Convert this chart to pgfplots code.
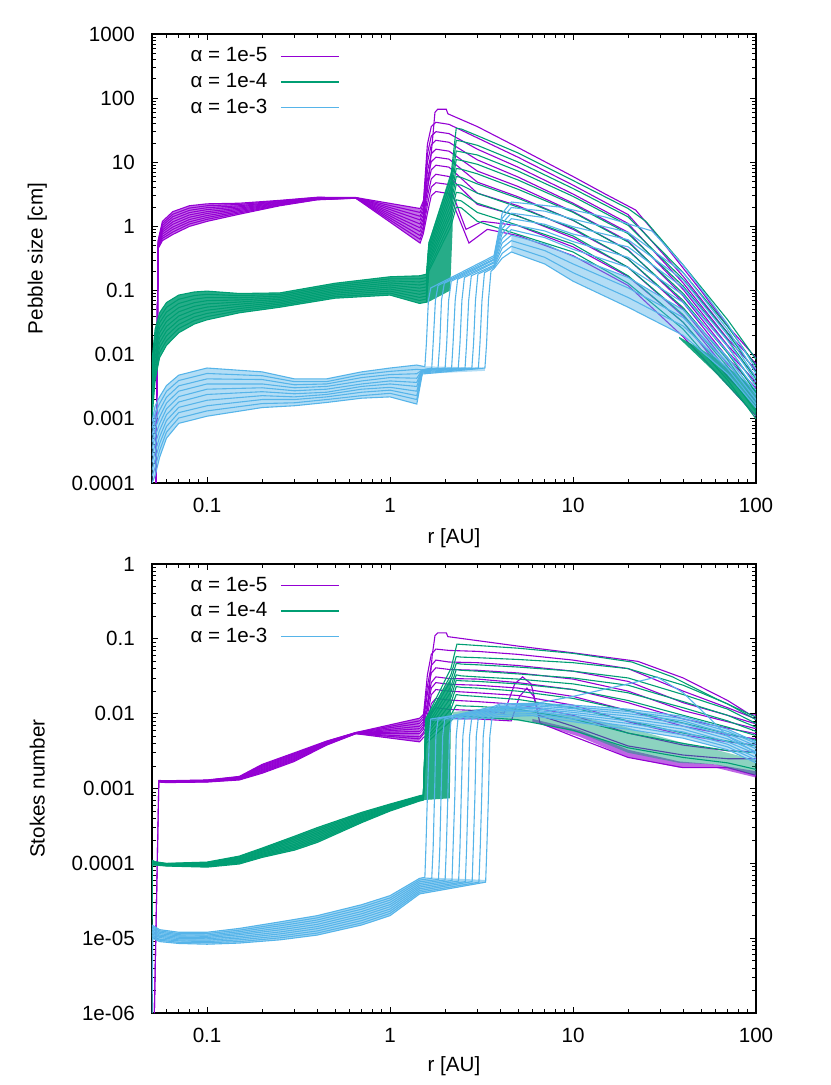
\documentclass[border=0pt]{standalone}
\usepackage{pgfplots}
\pgfplotsset{compat=1.18}
\usepackage{fontspec}
\setmainfont{Liberation Sans}
\definecolor{cP}{HTML}{9400D3}
\definecolor{cG}{HTML}{009E73}
\definecolor{cB}{HTML}{56B4E9}
\newcommand\fs{\fontsize{10.3}{12}\selectfont}
\tikzset{pP/.style={cP,line width=0.55pt},pG/.style={cG,line width=0.55pt},pB/.style={cB,line width=0.55pt}}
\begin{document}
\begin{tikzpicture}
\useasboundingbox (0,0) rectangle (415pt,542.5pt);
% ================= TOP PANEL =================
\begin{axis}[at={(76pt,301pt)}, anchor=south west,
    scale only axis, width=302pt, height=224.5pt,
    xmode=log, ymode=log, xmin=0.05, xmax=100,
    xtick={0.1,1,10,100}, xticklabels={0.1,1,10,100},
    minor xtick={0.06,0.07,0.08,0.09,0.2,0.3,0.4,0.5,0.6,0.7,0.8,0.9,2,3,4,5,6,7,8,9,20,30,40,50,60,70,80,90},
    tick align=inside, major tick length=3pt, minor tick length=1.8pt,
    tick style={black,line width=0.4pt},
    axis line style={line width=0.6pt},
    tick label style={font=\fs},
    xticklabel style={yshift=-3.9pt},
    yticklabel style={xshift=-5.1pt},
    label style={font=\fs},
    xlabel={r [AU]},
    xlabel style={at={(axis description cs:0.5,-0.1225)},anchor=center},
    ylabel style={at={(axis description cs:-0.19,0.5)},anchor=center},
    legend cell align=right, legend plot pos=right,
    legend style={draw=none,fill=none,at={(axis description cs:0.311,0.979)},anchor=north east,
      font=\fs,inner sep=0pt,row sep=0.2pt,column sep=4.5pt},
    legend image code/.code={\draw[#1] (0pt,0pt) -- (29pt,0pt);},
  ymin=1e-4, ymax=1000,
  ytick={1e-4,1e-3,0.01,0.1,1,10,100,1000},
  yticklabels={0.0001,0.001,0.01,0.1,1,10,100,1000},
  minor ytick={2e-4,3e-4,4e-4,5e-4,6e-4,7e-4,8e-4,9e-4,2e-3,3e-3,4e-3,5e-3,6e-3,7e-3,8e-3,9e-3,0.02,0.03,0.04,0.05,0.06,0.07,0.08,0.09,0.2,0.3,0.4,0.5,0.6,0.7,0.8,0.9,2,3,4,5,6,7,8,9,20,30,40,50,60,70,80,90,200,300,400,500,600,700,800,900},
  ylabel={Pebble size [cm]}]
\addlegendimage{cP,line width=0.6pt}\addlegendentry{α = 1e-5}
\addlegendimage{cG,line width=0.6pt}\addlegendentry{α = 1e-4}
\addlegendimage{cB,line width=0.6pt}\addlegendentry{α = 1e-3}
% purple
\addplot[draw=none,fill=cP,fill opacity=0.55,forget plot] coordinates {(0.054,0.6)(0.057,1.2)(0.065,1.7)(0.08,2.1)(0.1,2.25)(0.15,2.3)(0.25,2.55)(0.4,2.85)(0.65,2.82)(1.46,1.9)(1.46,0.55)(0.65,2.75)(0.4,2.6)(0.25,2.1)(0.15,1.55)(0.1,1.2)(0.08,1.0)(0.065,0.75)(0.057,0.6)(0.054,0.45)};
\addplot[pP,forget plot] coordinates {(0.0525,1e-4)(0.054,0.6)(0.057,1.2)(0.065,1.7)(0.08,2.1)(0.1,2.25)(0.15,2.3)(0.25,2.55)(0.4,2.85)(0.65,2.82)(1.46,1.9)(1.6,3.5)(1.7,20)(1.76,60)(1.82,67)(2.03,67)(2.07,57)(3,36)(5,17)(10,6)(15,3.2)(22,1.8)(30,0.63)(50,0.1)(70,0.028)(100,0.0089)};
\addplot[pP,forget plot] coordinates {(0.0525,1e-4)(0.054,0.58)(0.057,1.11)(0.065,1.55)(0.08,1.93)(0.1,2.1)(0.15,2.2)(0.25,2.5)(0.4,2.82)(0.65,2.81)(1.46,1.65)(1.52,2.3)(1.6,19)(1.68,36)(1.78,42)(2.1,39)(3,24)(5,12)(10,4.4)(20,1.53)(40,0.166)(70,0.022)(100,0.0072)};
\addplot[pP,forget plot] coordinates {(0.0525,1e-4)(0.054,0.56)(0.057,1.03)(0.065,1.42)(0.08,1.78)(0.1,1.96)(0.15,2.1)(0.25,2.44)(0.4,2.79)(0.65,2.8)(1.46,1.44)(1.52,2.0)(1.6,13.5)(1.68,25.5)(1.78,30)(2.1,28)(3,16)(5,8.4)(10,3.2)(20,1.11)(40,0.131)(70,0.0177)(100,0.0058)};
\addplot[pP,forget plot] coordinates {(0.0525,1e-4)(0.054,0.54)(0.057,0.95)(0.065,1.3)(0.08,1.64)(0.1,1.83)(0.15,2.02)(0.25,2.39)(0.4,2.76)(0.65,2.8)(1.46,1.26)(1.52,1.76)(1.6,9.9)(1.68,18.7)(1.78,22)(2.1,20.5)(3,10.9)(5,5.9)(10,2.3)(20,0.81)(40,0.104)(70,0.014)(100,0.0046)};
\addplot[pP,forget plot] coordinates {(0.0525,1e-4)(0.054,0.52)(0.057,0.88)(0.065,1.18)(0.08,1.51)(0.1,1.7)(0.15,1.93)(0.25,2.34)(0.4,2.73)(0.65,2.79)(1.46,1.09)(1.52,1.53)(1.6,7.2)(1.68,13.6)(1.78,16)(2.1,14.9)(3,7.3)(5,4.2)(10,1.7)(20,0.59)(40,0.082)(70,0.0112)(100,0.0037)};
\addplot[pP,forget plot] coordinates {(0.0525,1e-4)(0.054,0.51)(0.057,0.82)(0.065,1.08)(0.08,1.39)(0.1,1.59)(0.15,1.85)(0.25,2.29)(0.4,2.71)(0.65,2.78)(1.46,0.95)(1.52,1.33)(1.6,5.4)(1.68,10.2)(1.78,12)(2.1,11.2)(3,4.9)(5,2.9)(10,1.24)(20,0.43)(40,0.065)(70,0.0089)(100,0.003)};
\addplot[pP,forget plot] coordinates {(0.0525,1e-4)(0.054,0.5)(0.057,0.76)(0.065,0.98)(0.08,1.28)(0.1,1.48)(0.15,1.77)(0.25,2.24)(0.4,2.68)(0.65,2.77)(1.46,0.83)(1.52,1.16)(1.6,4.05)(1.68,7.65)(1.78,9)(2.1,8.4)(3,3.3)(5,2.1)(10,0.9)(20,0.31)(40,0.051)(70,0.0071)(100,0.0024)};
\addplot[pP,forget plot] coordinates {(0.0525,1e-4)(0.054,0.48)(0.057,0.7)(0.065,0.9)(0.08,1.18)(0.1,1.38)(0.15,1.69)(0.25,2.19)(0.4,2.65)(0.65,2.77)(1.46,0.72)(1.52,1.0)(1.6,2.9)(1.68,5.5)(1.78,6.5)(2.1,6.0)(3,2.2)(5,1.46)(10,0.66)(20,0.23)(40,0.04)(70,0.0056)(100,0.0019)};
\addplot[pP,forget plot] coordinates {(0.0525,1e-4)(0.054,0.47)(0.057,0.65)(0.065,0.82)(0.08,1.09)(0.1,1.29)(0.15,1.62)(0.25,2.14)(0.4,2.62)(0.65,2.76)(1.46,0.63)(1.52,0.88)(1.6,2.16)(1.68,4.1)(1.78,4.8)(2.1,4.5)(2.6,0.9)(3.2,1.2)(5,1.03)(10,0.48)(20,0.165)(40,0.032)(70,0.0045)(100,0.0016)};
\addplot[pP,forget plot] coordinates {(0.0525,1e-4)(0.054,0.45)(0.057,0.6)(0.065,0.75)(0.08,1.0)(0.1,1.2)(0.15,1.55)(0.25,2.1)(0.4,2.6)(0.65,2.75)(1.46,0.55)(1.52,0.77)(1.6,1.6)(1.68,3.0)(1.78,3.5)(2.1,3.25)(2.7,0.55)(3.4,0.9)(5,0.72)(10,0.35)(20,0.12)(40,0.019)(70,0.0034)(100,0.0011)};
% green
\addplot[draw=none,fill=cG,fill opacity=0.85,forget plot] coordinates {(0.05,0.008)(0.052,0.025)(0.055,0.045)(0.06,0.065)(0.07,0.085)(0.085,0.095)(0.1,0.098)(0.15,0.09)(0.25,0.092)(0.5,0.13)(1.0,0.164)(1.45,0.17)(1.58,0.18)(1.62,0.55)(2.15,7)(2.2,7)(2.2,1.0)(2.13,0.1)(1.6,0.065)(1.45,0.063)(1.0,0.085)(0.5,0.076)(0.25,0.055)(0.15,0.045)(0.1,0.035)(0.085,0.03)(0.07,0.022)(0.06,0.014)(0.055,0.009)(0.052,0.004)(0.05,0.001)};
\addplot[draw=none,fill=cG,fill opacity=0.9,forget plot] coordinates {(38,0.019)(60,0.009)(82,0.0045)(100,0.0028)(100,0.0011)(82,0.002)(60,0.0052)(38,0.018)};
\addplot[pG,forget plot] coordinates {(0.05,0.008)(0.052,0.025)(0.055,0.045)(0.06,0.065)(0.07,0.085)(0.085,0.095)(0.1,0.098)(0.15,0.09)(0.25,0.092)(0.5,0.13)(1.0,0.164)(1.45,0.17)(1.58,0.18)(1.63,0.55)(2.15,6)(2.3,34)(2.45,33)(3,26)(5,14)(10,5.2)(20,1.9)(25,1.2)(40,0.25)(70,0.035)(100,0.0085)};
\addplot[pG,forget plot] coordinates {(0.05,0.0063)(0.052,0.0204)(0.055,0.0376)(0.06,0.0548)(0.07,0.0731)(0.085,0.0836)(0.1,0.0874)(0.15,0.0833)(0.25,0.0869)(0.5,0.1224)(1.0,0.1524)(1.45,0.152)(1.58,0.16)(1.63,0.49)(2.15,4.9)(2.3,22)(2.45,21.3)(3,18.4)(5,10.1)(10,3.9)(20,1.41)(40,0.19)(70,0.0275)(100,0.0067)};
\addplot[pG,forget plot] coordinates {(0.05,0.005)(0.052,0.0166)(0.055,0.0315)(0.06,0.0462)(0.07,0.0629)(0.085,0.0735)(0.1,0.078)(0.15,0.0771)(0.25,0.082)(0.5,0.1153)(1.0,0.1417)(1.45,0.136)(1.58,0.143)(1.63,0.44)(2.15,4.0)(2.3,15)(2.45,14.5)(3,13)(5,7.3)(10,2.94)(20,1.04)(40,0.15)(70,0.0217)(100,0.0053)};
\addplot[pG,forget plot] coordinates {(0.05,0.004)(0.052,0.0136)(0.055,0.0263)(0.06,0.039)(0.07,0.0542)(0.085,0.0646)(0.1,0.0696)(0.15,0.0714)(0.25,0.0775)(0.5,0.1086)(1.0,0.1317)(1.45,0.122)(1.58,0.128)(1.63,0.39)(2.15,3.3)(2.3,11)(2.45,10.7)(3,9.3)(5,5.3)(10,2.2)(20,0.77)(40,0.117)(70,0.017)(100,0.0042)};
\addplot[pG,forget plot] coordinates {(0.05,0.0032)(0.052,0.011)(0.055,0.022)(0.06,0.0329)(0.07,0.0466)(0.085,0.0568)(0.1,0.062)(0.15,0.0662)(0.25,0.0731)(0.5,0.1022)(1.0,0.1224)(1.45,0.109)(1.58,0.114)(1.63,0.35)(2.15,2.7)(2.3,8)(2.45,7.8)(3,6.6)(5,3.8)(10,1.66)(20,0.57)(40,0.09)(70,0.0134)(100,0.0033)};
\addplot[pG,forget plot] coordinates {(0.05,0.0025)(0.052,0.009)(0.055,0.0184)(0.06,0.0277)(0.07,0.0401)(0.085,0.05)(0.1,0.0553)(0.15,0.0613)(0.25,0.069)(0.5,0.0963)(1.0,0.1137)(1.45,0.0976)(1.58,0.102)(1.63,0.31)(2.15,2.2)(2.3,6)(2.45,5.8)(3,4.6)(5,2.75)(10,1.25)(20,0.42)(40,0.07)(70,0.0106)(100,0.0026)};
\addplot[pG,forget plot] coordinates {(0.05,0.002)(0.052,0.0074)(0.055,0.0154)(0.06,0.0234)(0.07,0.0345)(0.085,0.044)(0.1,0.0494)(0.15,0.0567)(0.25,0.0652)(0.5,0.0907)(1.0,0.1057)(1.45,0.0874)(1.58,0.092)(1.63,0.28)(2.15,1.8)(2.3,4.5)(2.45,4.4)(3,3.3)(5,2.0)(10,0.94)(20,0.31)(40,0.054)(70,0.0083)(100,0.002)};
\addplot[pG,forget plot] coordinates {(0.05,0.0016)(0.052,0.006)(0.055,0.0129)(0.06,0.0197)(0.07,0.0297)(0.085,0.0387)(0.1,0.044)(0.15,0.0525)(0.25,0.0616)(0.5,0.0854)(1.0,0.0982)(1.45,0.0782)(1.58,0.082)(1.63,0.25)(2.15,1.5)(2.3,3.4)(2.45,3.3)(3,2.3)(5,1.44)(10,0.71)(20,0.23)(40,0.042)(70,0.0065)(100,0.0016)};
\addplot[pG,forget plot] coordinates {(0.05,0.00126)(0.052,0.0049)(0.055,0.0108)(0.06,0.0166)(0.07,0.0256)(0.085,0.034)(0.1,0.0393)(0.15,0.0486)(0.25,0.0582)(0.5,0.0804)(1.0,0.0913)(1.45,0.07)(1.58,0.074)(1.63,0.22)(2.15,1.22)(2.3,2.6)(2.45,2.5)(3,1.65)(5,1.04)(10,0.53)(20,0.17)(40,0.032)(70,0.0051)(100,0.0013)};
\addplot[pG,forget plot] coordinates {(0.05,0.001)(0.052,0.004)(0.055,0.009)(0.06,0.014)(0.07,0.022)(0.085,0.03)(0.1,0.035)(0.15,0.045)(0.25,0.055)(0.5,0.076)(1.0,0.085)(1.45,0.063)(1.58,0.066)(1.63,0.2)(2.15,1.0)(2.3,2.0)(2.45,1.95)(3,1.2)(5,0.75)(10,0.4)(20,0.13)(40,0.025)(70,0.004)(100,0.001)};
% blue
\addplot[draw=none,fill=cB,fill opacity=0.45,forget plot] coordinates {(0.05,9e-4)(0.052,1.6e-3)(0.055,2.2e-3)(0.06,3.3e-3)(0.07,4.8e-3)(0.1,6.2e-3)(0.2,5.4e-3)(0.3,4.2e-3)(0.45,4.2e-3)(0.7,5.4e-3)(1.0,6.2e-3)(1.4,6.9e-3)(1.55,6.6e-3)(3.3,6.3e-3)(3.3,5.6e-3)(1.5,5.0e-3)(1.4,1.7e-3)(1.0,2.2e-3)(0.7,2.1e-3)(0.45,1.8e-3)(0.3,1.6e-3)(0.2,1.5e-3)(0.1,1.1e-3)(0.07,8.5e-4)(0.06,5e-4)(0.055,2.5e-4)(0.052,1.3e-4)(0.05,1e-4)};
\addplot[draw=none,fill=cB,fill opacity=0.45,forget plot] coordinates {(4.6,0.73)(7,0.53)(10,0.34)(20,0.16)(40,0.05)(70,0.0091)(100,0.0024)(100,0.0015)(70,0.005)(40,0.02)(20,0.055)(10,0.14)(7,0.26)(4.6,0.4)};
\addplot[pB,forget plot] coordinates {(0.05,9e-4)(0.052,1.6e-3)(0.055,2.2e-3)(0.06,3.3e-3)(0.07,4.8e-3)(0.1,6.2e-3)(0.2,5.4e-3)(0.3,4.2e-3)(0.45,4.2e-3)(0.7,5.4e-3)(1.0,6.2e-3)(1.4,6.9e-3)(1.55,6.5e-3)(1.58,0.015)(1.62,0.07)(1.67,0.11)(3.7,0.35)(4.1,1.6)(4.6,2.4)(8.5,2.0)(15,1.4)(27,0.85)(40,0.25)(70,0.03)(100,0.006)};
\addplot[pB,forget plot] coordinates {(0.05,7.05e-4)(0.052,1.21e-3)(0.055,1.73e-3)(0.06,2.68e-3)(0.07,3.96e-3)(0.1,5.1e-3)(0.2,4.7e-3)(0.3,3.8e-3)(0.45,3.8e-3)(0.7,4.9e-3)(1.0,5.5e-3)(1.4,5.9e-3)(1.5,5.8e-3)(1.69,6.2e-3)(1.72,0.015)(1.77,0.07)(1.83,0.12)(3.7,0.33)(4.1,1.34)(4.6,1.97)(7,1.73)(10,1.3)(20,0.81)(40,0.19)(70,0.0246)(100,0.0051)};
\addplot[pB,forget plot] coordinates {(0.05,5.5e-4)(0.052,9.2e-4)(0.055,1.36e-3)(0.06,2.17e-3)(0.07,3.27e-3)(0.1,4.2e-3)(0.2,4.1e-3)(0.3,3.4e-3)(0.45,3.5e-3)(0.7,4.4e-3)(1.0,4.9e-3)(1.4,5.05e-3)(1.5,5.8e-3)(1.83,6.2e-3)(1.87,0.015)(1.91,0.07)(1.98,0.13)(3.7,0.31)(4.1,1.12)(4.6,1.61)(7,1.37)(10,0.99)(20,0.62)(40,0.146)(70,0.0202)(100,0.0044)};
\addplot[pB,forget plot] coordinates {(0.05,4.3e-4)(0.052,7e-4)(0.055,1.07e-3)(0.06,1.76e-3)(0.07,2.7e-3)(0.1,3.5e-3)(0.2,3.5e-3)(0.3,3.05e-3)(0.45,3.2e-3)(0.7,3.9e-3)(1.0,4.4e-3)(1.4,4.3e-3)(1.5,5.8e-3)(2.0,6.2e-3)(2.04,0.015)(2.09,0.07)(2.16,0.14)(3.7,0.3)(4.1,0.93)(4.6,1.32)(7,1.08)(10,0.76)(20,0.48)(40,0.111)(70,0.0165)(100,0.0038)};
\addplot[pB,forget plot] coordinates {(0.05,3.4e-4)(0.052,5.3e-4)(0.055,8.4e-4)(0.06,1.43e-3)(0.07,2.22e-3)(0.1,2.9e-3)(0.2,3.05e-3)(0.3,2.74e-3)(0.45,2.9e-3)(0.7,3.5e-3)(1.0,3.9e-3)(1.4,3.7e-3)(1.5,5.8e-3)(2.17,6.2e-3)(2.21,0.015)(2.27,0.07)(2.34,0.15)(3.7,0.28)(4.1,0.78)(4.6,1.08)(7,0.85)(10,0.58)(20,0.33)(40,0.085)(70,0.0135)(100,0.0032)};
\addplot[pB,forget plot] coordinates {(0.05,2.65e-4)(0.052,4e-4)(0.055,6.6e-4)(0.06,1.16e-3)(0.07,1.83e-3)(0.1,2.4e-3)(0.2,2.65e-3)(0.3,2.46e-3)(0.45,2.6e-3)(0.7,3.2e-3)(1.0,3.5e-3)(1.4,3.2e-3)(1.5,5.8e-3)(2.36,6.2e-3)(2.41,0.015)(2.47,0.07)(2.55,0.16)(3.7,0.27)(4.1,0.65)(4.6,0.89)(7,0.67)(10,0.44)(20,0.23)(40,0.065)(70,0.0111)(100,0.0028)};
\addplot[pB,forget plot] coordinates {(0.05,2.1e-4)(0.052,3e-4)(0.055,5.2e-4)(0.06,9.4e-4)(0.07,1.51e-3)(0.1,1.95e-3)(0.2,2.3e-3)(0.3,2.2e-3)(0.45,2.4e-3)(0.7,2.9e-3)(1.0,3.1e-3)(1.4,2.7e-3)(1.5,5.6e-3)(2.57,6.2e-3)(2.62,0.015)(2.69,0.07)(2.78,0.17)(3.7,0.25)(4.1,0.55)(4.6,0.73)(7,0.53)(10,0.34)(20,0.16)(40,0.05)(70,0.0091)(100,0.0024)};
\addplot[pB,forget plot] coordinates {(0.05,1.6e-4)(0.052,2.3e-4)(0.055,4.1e-4)(0.06,7.6e-4)(0.07,1.25e-3)(0.1,1.6e-3)(0.2,2.0e-3)(0.3,2.0e-3)(0.45,2.2e-3)(0.7,2.6e-3)(1.0,2.8e-3)(1.4,2.3e-3)(1.5,5.4e-3)(2.8,6.2e-3)(2.86,0.015)(2.93,0.07)(3.02,0.18)(3.7,0.24)(4.1,0.46)(4.6,0.6)(7,0.42)(10,0.26)(20,0.11)(40,0.038)(70,0.0075)(100,0.002)};
\addplot[pB,forget plot] coordinates {(0.05,1.28e-4)(0.052,1.74e-4)(0.055,3.2e-4)(0.06,6.2e-4)(0.07,1.03e-3)(0.1,1.33e-3)(0.2,1.73e-3)(0.3,1.78e-3)(0.45,2.0e-3)(0.7,2.3e-3)(1.0,2.5e-3)(1.4,2.0e-3)(1.5,5.2e-3)(3.04,6.2e-3)(3.1,0.015)(3.18,0.07)(3.28,0.19)(3.7,0.23)(4.1,0.38)(4.6,0.49)(7,0.33)(10,0.19)(20,0.078)(40,0.028)(70,0.0061)(100,0.0017)};
\addplot[pB,forget plot] coordinates {(0.05,1e-4)(0.052,1.3e-4)(0.055,2.5e-4)(0.06,5e-4)(0.07,8.5e-4)(0.1,1.1e-3)(0.2,1.5e-3)(0.3,1.6e-3)(0.45,1.8e-3)(0.7,2.1e-3)(1.0,2.2e-3)(1.4,1.7e-3)(1.5,5.0e-3)(3.3,6.2e-3)(3.37,0.015)(3.45,0.07)(3.56,0.2)(3.7,0.22)(4.1,0.32)(4.6,0.4)(7,0.26)(10,0.14)(20,0.055)(40,0.02)(70,0.005)(100,0.0015)};
\end{axis}
% ================= BOTTOM PANEL =================
\begin{axis}[at={(76pt,36pt)}, anchor=south west,
    scale only axis, width=302pt, height=224.5pt,
    xmode=log, ymode=log, xmin=0.05, xmax=100,
    xtick={0.1,1,10,100}, xticklabels={0.1,1,10,100},
    minor xtick={0.06,0.07,0.08,0.09,0.2,0.3,0.4,0.5,0.6,0.7,0.8,0.9,2,3,4,5,6,7,8,9,20,30,40,50,60,70,80,90},
    tick align=inside, major tick length=3pt, minor tick length=1.8pt,
    tick style={black,line width=0.4pt},
    axis line style={line width=0.6pt},
    tick label style={font=\fs},
    xticklabel style={yshift=-3.9pt},
    yticklabel style={xshift=-5.1pt},
    label style={font=\fs},
    xlabel={r [AU]},
    xlabel style={at={(axis description cs:0.5,-0.118)},anchor=center},
    ylabel style={at={(axis description cs:-0.19,0.5)},anchor=center},
    legend cell align=right, legend plot pos=right,
    legend style={draw=none,fill=none,at={(axis description cs:0.311,0.981)},anchor=north east,
      font=\fs,inner sep=0pt,row sep=0.2pt,column sep=4.5pt},
    legend image code/.code={\draw[#1] (0pt,0pt) -- (29pt,0pt);},
  ymin=1e-6, ymax=1,
  ytick={1e-6,1e-5,1e-4,1e-3,0.01,0.1,1},
  yticklabels={1e-06,1e-05,0.0001,0.001,0.01,0.1,1},
  minor ytick={2e-6,3e-6,4e-6,5e-6,6e-6,7e-6,8e-6,9e-6,2e-5,3e-5,4e-5,5e-5,6e-5,7e-5,8e-5,9e-5,2e-4,3e-4,4e-4,5e-4,6e-4,7e-4,8e-4,9e-4,2e-3,3e-3,4e-3,5e-3,6e-3,7e-3,8e-3,9e-3,0.02,0.03,0.04,0.05,0.06,0.07,0.08,0.09,0.2,0.3,0.4,0.5,0.6,0.7,0.8,0.9},
  ylabel={Stokes number}]
\addlegendimage{cP,line width=0.6pt}\addlegendentry{α = 1e-5}
\addlegendimage{cG,line width=0.6pt}\addlegendentry{α = 1e-4}
\addlegendimage{cB,line width=0.6pt}\addlegendentry{α = 1e-3}
% purple
\addplot[draw=none,fill=cP,fill opacity=0.6,forget plot] coordinates {(0.0545,1.28e-3)(0.06,1.27e-3)(0.1,1.3e-3)(0.15,1.45e-3)(0.2,2.1e-3)(0.3,3.0e-3)(0.45,4.3e-3)(0.65,5.6e-3)(1.45,8.7e-3)(1.45,4.2e-3)(0.65,5.4e-3)(0.45,3.8e-3)(0.3,2.3e-3)(0.2,1.6e-3)(0.15,1.3e-3)(0.1,1.22e-3)(0.06,1.2e-3)(0.0545,1.22e-3)};
\addplot[draw=none,fill=cP,fill opacity=0.6,forget plot] coordinates {(6,0.0085)(10.9,0.006)(20,0.0033)(38,0.0023)(60,0.0021)(100,0.0017)(100,0.0014)(60,0.0019)(38,0.0019)(20,0.0026)(10.9,0.0049)(6,0.0078)};
\addplot[pP,forget plot] coordinates {(0.0515,1e-6)(0.0545,1.28e-3)(0.06,1.27e-3)(0.1,1.3e-3)(0.15,1.45e-3)(0.2,2.1e-3)(0.3,3.0e-3)(0.45,4.3e-3)(0.65,5.6e-3)(1.45,8.7e-3)(1.6,0.011)(1.7,0.06)(1.76,0.11)(1.82,0.12)(2.03,0.12)(2.07,0.107)(5,0.08)(10,0.065)(22.6,0.05)(40,0.03)(70,0.015)(93,0.0097)(100,0.0096)};
\addplot[pP,forget plot] coordinates {(0.0515,1e-6)(0.0545,1.27e-3)(0.06,1.26e-3)(0.1,1.29e-3)(0.15,1.43e-3)(0.2,2.04e-3)(0.3,2.92e-3)(0.45,4.25e-3)(0.65,5.58e-3)(1.45,8.0e-3)(1.52,9.2e-3)(1.6,0.033)(1.68,0.062)(1.78,0.073)(2.1,0.07)(3,0.068)(5,0.062)(10,0.052)(20,0.04)(40,0.02)(70,0.012)(100,0.0085)};
\addplot[pP,forget plot] coordinates {(0.0545,1.27e-3)(0.06,1.25e-3)(0.1,1.28e-3)(0.15,1.42e-3)(0.2,1.98e-3)(0.3,2.84e-3)(0.45,4.19e-3)(0.65,5.56e-3)(1.45,7.4e-3)(1.52,8.5e-3)(1.6,0.0234)(1.68,0.044)(1.78,0.052)(2.1,0.049)(3,0.048)(5,0.044)(10,0.037)(20,0.027)(40,0.014)(70,0.0095)(100,0.0073)};
\addplot[pP,forget plot] coordinates {(0.0545,1.26e-3)(0.06,1.25e-3)(0.1,1.27e-3)(0.15,1.4e-3)(0.2,1.92e-3)(0.3,2.76e-3)(0.45,4.14e-3)(0.65,5.53e-3)(1.45,6.8e-3)(1.52,7.8e-3)(1.6,0.0185)(1.68,0.035)(1.78,0.041)(2.1,0.039)(3,0.038)(5,0.035)(10,0.029)(20,0.02)(40,0.011)(70,0.0078)(100,0.0063)};
\addplot[pP,forget plot] coordinates {(0.0545,1.25e-3)(0.06,1.24e-3)(0.1,1.26e-3)(0.15,1.39e-3)(0.2,1.86e-3)(0.3,2.68e-3)(0.45,4.08e-3)(0.65,5.51e-3)(1.45,6.3e-3)(1.52,7.2e-3)(1.6,0.014)(1.68,0.026)(1.78,0.031)(2.1,0.0295)(3,0.029)(5,0.026)(10,0.021)(20,0.014)(40,0.0085)(70,0.0064)(100,0.0054)};
\addplot[pP,forget plot] coordinates {(0.0545,1.25e-3)(0.06,1.23e-3)(0.1,1.26e-3)(0.15,1.37e-3)(0.2,1.8e-3)(0.3,2.6e-3)(0.45,4.03e-3)(0.65,5.49e-3)(1.45,5.8e-3)(1.52,6.7e-3)(1.6,0.0117)(1.68,0.022)(1.78,0.026)(2.1,0.0247)(3,0.024)(5,0.022)(10,0.017)(20,0.011)(40,0.0068)(70,0.0052)(100,0.0046)};
\addplot[pP,forget plot] coordinates {(0.0545,1.24e-3)(0.06,1.22e-3)(0.1,1.25e-3)(0.15,1.35e-3)(0.2,1.75e-3)(0.3,2.52e-3)(0.45,3.97e-3)(0.65,5.47e-3)(1.45,5.4e-3)(1.52,6.2e-3)(1.6,0.0095)(1.68,0.0179)(1.78,0.021)(2.1,0.02)(3,0.019)(5,0.0175)(10,0.013)(20,0.0078)(40,0.0052)(70,0.0042)(100,0.0038)};
\addplot[pP,forget plot] coordinates {(0.0545,1.23e-3)(0.06,1.22e-3)(0.1,1.24e-3)(0.15,1.34e-3)(0.2,1.7e-3)(0.3,2.45e-3)(0.45,3.91e-3)(0.65,5.44e-3)(1.45,4.9e-3)(1.52,5.6e-3)(1.6,0.0072)(1.68,0.0136)(1.78,0.016)(2.1,0.0152)(3,0.0145)(5,0.0133)(10,0.0095)(20,0.0055)(40,0.0038)(70,0.0032)(100,0.0031)};
\addplot[pP,forget plot] coordinates {(0.0545,1.23e-3)(0.06,1.21e-3)(0.1,1.23e-3)(0.15,1.32e-3)(0.2,1.65e-3)(0.3,2.37e-3)(0.45,3.86e-3)(0.65,5.42e-3)(1.45,4.6e-3)(1.52,5.3e-3)(1.6,0.006)(1.68,0.0102)(1.78,0.012)(2.1,0.0114)(3,0.011)(4.2,0.0102)(4.8,0.025)(5.3,0.031)(5.9,0.025)(6.5,0.0095)(10,0.0068)(20,0.0037)(40,0.0028)(70,0.0025)(100,0.0025)};
\addplot[pP,forget plot] coordinates {(0.0545,1.22e-3)(0.06,1.2e-3)(0.1,1.22e-3)(0.15,1.3e-3)(0.2,1.6e-3)(0.3,2.3e-3)(0.45,3.8e-3)(0.65,5.4e-3)(1.45,4.2e-3)(1.52,4.8e-3)(1.6,0.0052)(1.68,0.0077)(1.78,0.009)(2.1,0.0086)(3,0.0085)(4.6,0.008)(5.1,0.017)(5.6,0.022)(6.1,0.017)(6.6,0.0075)(10,0.005)(20,0.0026)(40,0.0019)(70,0.0019)(100,0.0015)};
% green
\addplot[draw=none,fill=cG,fill opacity=0.85,forget plot] coordinates {(0.05,1.1e-4)(0.052,1.05e-4)(0.06,1.0e-4)(0.1,1.04e-4)(0.15,1.25e-4)(0.2,1.6e-4)(0.3,2.3e-4)(0.4,3.0e-4)(0.7,4.8e-4)(1.0,6.2e-4)(1.45,8.0e-4)(1.52,8.2e-4)(1.55,0.0085)(2.15,0.03)(2.15,0.0075)(2.12,7.4e-4)(1.52,7.0e-4)(1.45,6.8e-4)(1.0,5.0e-4)(0.7,3.5e-4)(0.4,1.9e-4)(0.3,1.5e-4)(0.2,1.2e-4)(0.15,0.98e-4)(0.1,0.89e-4)(0.06,0.92e-4)(0.052,0.95e-4)(0.05,0.95e-4)};
\addplot[draw=none,fill=cG,fill opacity=0.45,forget plot] coordinates {(2.2,0.0105)(3,0.0115)(4.7,0.0115)(7,0.0105)(10.9,0.0092)(20,0.0065)(38,0.0042)(60,0.0033)(100,0.0024)(100,0.0015)(60,0.0021)(38,0.0022)(20,0.003)(10.9,0.0055)(7,0.0072)(4.7,0.0082)(3,0.0086)(2.2,0.0088)};
\addplot[pG,forget plot] coordinates {(0.05,1.1e-4)(0.052,1.05e-4)(0.06,1.0e-4)(0.1,1.04e-4)(0.15,1.25e-4)(0.2,1.6e-4)(0.3,2.3e-4)(0.4,3.0e-4)(0.7,4.8e-4)(1.0,6.2e-4)(1.45,8.0e-4)(1.52,8.2e-4)(1.57,0.0085)(2.15,0.04)(2.32,0.085)(5,0.075)(10,0.064)(21,0.049)(35,0.031)(60,0.016)(100,0.009)};
\addplot[pG,forget plot] coordinates {(0.05,1.08e-4)(0.052,1.04e-4)(0.06,0.99e-4)(0.1,1.02e-4)(0.15,1.22e-4)(0.2,1.55e-4)(0.3,2.2e-4)(0.4,2.85e-4)(0.7,4.63e-4)(1.0,6.05e-4)(1.45,7.86e-4)(1.52,8.1e-4)(1.57,0.0078)(2.15,0.033)(2.3,0.058)(2.45,0.057)(3,0.056)(5,0.053)(10,0.048)(20,0.04)(40,0.024)(70,0.0135)(100,0.0083)};
\addplot[pG,forget plot] coordinates {(0.05,1.06e-4)(0.052,1.03e-4)(0.06,0.98e-4)(0.1,1.0e-4)(0.15,1.18e-4)(0.2,1.5e-4)(0.3,2.1e-4)(0.4,2.71e-4)(0.7,4.47e-4)(1.0,5.9e-4)(1.45,7.72e-4)(1.52,7.95e-4)(1.57,0.0072)(2.15,0.028)(2.3,0.047)(2.45,0.046)(3,0.045)(5,0.042)(10,0.037)(20,0.03)(40,0.018)(70,0.0115)(100,0.0074)};
\addplot[pG,forget plot] coordinates {(0.05,1.05e-4)(0.052,1.02e-4)(0.06,0.97e-4)(0.1,0.99e-4)(0.15,1.15e-4)(0.2,1.45e-4)(0.3,2.0e-4)(0.4,2.57e-4)(0.7,4.31e-4)(1.0,5.76e-4)(1.45,7.58e-4)(1.52,7.8e-4)(1.57,0.0066)(2.15,0.023)(2.3,0.039)(2.45,0.038)(3,0.037)(5,0.034)(10,0.03)(20,0.024)(40,0.0145)(70,0.0095)(100,0.0066)};
\addplot[pG,forget plot] coordinates {(0.05,1.03e-4)(0.052,1.0e-4)(0.06,0.96e-4)(0.1,0.97e-4)(0.15,1.12e-4)(0.2,1.41e-4)(0.3,1.9e-4)(0.4,2.45e-4)(0.7,4.16e-4)(1.0,5.62e-4)(1.45,7.44e-4)(1.52,7.65e-4)(1.57,0.0061)(2.15,0.0196)(2.3,0.033)(2.45,0.032)(3,0.031)(5,0.029)(10,0.025)(20,0.019)(40,0.012)(70,0.008)(100,0.0058)};
\addplot[pG,forget plot] coordinates {(0.05,1.01e-4)(0.052,0.99e-4)(0.06,0.96e-4)(0.1,0.95e-4)(0.15,1.09e-4)(0.2,1.36e-4)(0.3,1.8e-4)(0.4,2.33e-4)(0.7,4.02e-4)(1.0,5.49e-4)(1.45,7.3e-4)(1.52,7.5e-4)(1.57,0.0056)(2.15,0.0164)(2.3,0.028)(2.45,0.0275)(3,0.027)(5,0.025)(10,0.021)(20,0.015)(40,0.0095)(70,0.0066)(100,0.0051)};
\addplot[pG,forget plot] coordinates {(0.05,1.0e-4)(0.052,0.98e-4)(0.06,0.95e-4)(0.1,0.94e-4)(0.15,1.06e-4)(0.2,1.32e-4)(0.3,1.72e-4)(0.4,2.21e-4)(0.7,3.88e-4)(1.0,5.36e-4)(1.45,7.17e-4)(1.52,7.4e-4)(1.57,0.0052)(2.15,0.0137)(2.3,0.023)(2.45,0.0225)(3,0.022)(5,0.02)(10,0.016)(20,0.011)(40,0.0075)(70,0.0054)(100,0.0044)};
\addplot[pG,forget plot] coordinates {(0.05,0.98e-4)(0.052,0.97e-4)(0.06,0.94e-4)(0.1,0.92e-4)(0.15,1.04e-4)(0.2,1.28e-4)(0.3,1.64e-4)(0.4,2.1e-4)(0.7,3.75e-4)(1.0,5.24e-4)(1.45,7.04e-4)(1.52,7.25e-4)(1.57,0.0047)(2.15,0.0115)(2.3,0.018)(2.45,0.0176)(3,0.017)(5,0.0155)(10,0.012)(20,0.008)(40,0.0055)(70,0.0043)(100,0.0037)};
\addplot[pG,forget plot] coordinates {(0.05,0.97e-4)(0.052,0.96e-4)(0.06,0.93e-4)(0.1,0.91e-4)(0.15,1.01e-4)(0.2,1.24e-4)(0.3,1.57e-4)(0.4,2.0e-4)(0.7,3.62e-4)(1.0,5.12e-4)(1.45,6.92e-4)(1.52,7.1e-4)(1.57,0.0044)(2.15,0.0096)(2.3,0.013)(2.45,0.0127)(3,0.0125)(5,0.0115)(10,0.0085)(20,0.0055)(40,0.004)(70,0.0032)(100,0.003)};
\addplot[pG,forget plot] coordinates {(0.05,1e-6)(0.0502,0.95e-4)(0.052,0.95e-4)(0.06,0.92e-4)(0.1,0.89e-4)(0.15,0.98e-4)(0.2,1.2e-4)(0.3,1.5e-4)(0.4,1.9e-4)(0.7,3.5e-4)(1.0,5.0e-4)(1.45,6.8e-4)(1.52,7.0e-4)(1.57,0.004)(2.15,0.008)(2.3,0.0095)(2.45,0.0093)(3,0.009)(5,0.0083)(10,0.006)(20,0.0035)(40,0.0026)(70,0.0022)(100,0.0018)};
% blue
\addplot[draw=none,fill=cB,fill opacity=0.55,forget plot] coordinates {(0.05,1.5e-5)(0.055,1.3e-5)(0.07,1.2e-5)(0.1,1.2e-5)(0.15,1.35e-5)(0.25,1.65e-5)(0.4,2.0e-5)(0.7,2.8e-5)(1.0,3.7e-5)(1.45,6.3e-5)(1.55,6.5e-5)(3.33,6.0e-5)(3.33,5.6e-5)(1.45,3.9e-5)(1.0,2.0e-5)(0.7,1.5e-5)(0.4,1.1e-5)(0.25,0.95e-5)(0.15,0.86e-5)(0.1,0.83e-5)(0.07,0.85e-5)(0.055,0.9e-5)(0.05,1.0e-5)};
\addplot[draw=none,fill=cB,fill opacity=0.4,forget plot] coordinates {(1.7,0.0085)(3.7,0.0125)(6,0.0138)(10,0.013)(20,0.0115)(40,0.0092)(70,0.0062)(100,0.0042)(100,0.0022)(70,0.0033)(40,0.0047)(20,0.0062)(10,0.0078)(6,0.0094)(3.6,0.0085)(1.7,0.008)};
\addplot[pB,forget plot] coordinates {(0.05,1.5e-5)(0.055,1.3e-5)(0.07,1.2e-5)(0.1,1.2e-5)(0.15,1.35e-5)(0.25,1.65e-5)(0.4,2.0e-5)(0.7,2.8e-5)(1.0,3.7e-5)(1.45,6.3e-5)(1.55,6.5e-5)(1.57,1.6e-4)(1.6,8e-4)(1.64,0.005)(1.67,0.0085)(3,0.0105)(4.7,0.012)(10,0.017)(20,0.025)(28.8,0.031)(40,0.019)(55,0.009)(70,0.005)(100,0.003)};
\addplot[pB,forget plot] coordinates {(0.05,1.43e-5)(0.055,1.25e-5)(0.07,1.15e-5)(0.1,1.15e-5)(0.15,1.28e-5)(0.25,1.55e-5)(0.4,1.87e-5)(0.7,2.61e-5)(1.0,3.45e-5)(1.45,5.97e-5)(1.69,6.3e-5)(1.72,1.6e-4)(1.75,8e-4)(1.78,0.005)(1.83,0.0085)(3.7,0.0125)(4,0.0135)(6,0.0138)(10,0.013)(20,0.0115)(40,0.0092)(70,0.0062)(100,0.0042)};
\addplot[pB,forget plot] coordinates {(0.05,1.37e-5)(0.055,1.2e-5)(0.07,1.11e-5)(0.1,1.1e-5)(0.15,1.22e-5)(0.25,1.46e-5)(0.4,1.75e-5)(0.7,2.44e-5)(1.0,3.23e-5)(1.45,5.66e-5)(1.84,6.1e-5)(1.87,1.6e-4)(1.9,8e-4)(1.94,0.005)(1.99,0.0085)(3.7,0.012)(4,0.013)(6,0.0133)(10,0.0123)(20,0.0107)(40,0.0086)(70,0.0058)(100,0.004)};
\addplot[pB,forget plot] coordinates {(0.05,1.31e-5)(0.055,1.15e-5)(0.07,1.07e-5)(0.1,1.06e-5)(0.15,1.16e-5)(0.25,1.37e-5)(0.4,1.64e-5)(0.7,2.27e-5)(1.0,3.01e-5)(1.45,5.36e-5)(2.0,6.0e-5)(2.03,1.6e-4)(2.07,8e-4)(2.11,0.005)(2.16,0.0085)(3.7,0.0116)(4,0.0125)(6,0.0128)(10,0.0117)(20,0.01)(40,0.008)(70,0.0054)(100,0.0037)};
\addplot[pB,forget plot] coordinates {(0.05,1.25e-5)(0.055,1.1e-5)(0.07,1.03e-5)(0.1,1.02e-5)(0.15,1.11e-5)(0.25,1.29e-5)(0.4,1.53e-5)(0.7,2.12e-5)(1.0,2.81e-5)(1.45,5.08e-5)(2.18,5.9e-5)(2.21,1.6e-4)(2.26,8e-4)(2.3,0.005)(2.35,0.0085)(3.7,0.0112)(4,0.012)(6,0.0122)(10,0.011)(20,0.0093)(40,0.0074)(70,0.005)(100,0.0034)};
\addplot[pB,forget plot] coordinates {(0.05,1.2e-5)(0.055,1.06e-5)(0.07,0.99e-5)(0.1,0.98e-5)(0.15,1.05e-5)(0.25,1.21e-5)(0.4,1.43e-5)(0.7,1.98e-5)(1.0,2.63e-5)(1.45,4.82e-5)(2.37,5.8e-5)(2.41,1.6e-4)(2.45,8e-4)(2.5,0.005)(2.56,0.0085)(3.7,0.0108)(4,0.0115)(6,0.0117)(10,0.0104)(20,0.0086)(40,0.0068)(70,0.0046)(100,0.0031)};
\addplot[pB,forget plot] coordinates {(0.05,1.15e-5)(0.055,1.02e-5)(0.07,0.95e-5)(0.1,0.94e-5)(0.15,1.0e-5)(0.25,1.14e-5)(0.4,1.34e-5)(0.7,1.85e-5)(1.0,2.45e-5)(1.45,4.57e-5)(2.58,5.7e-5)(2.62,1.6e-4)(2.67,8e-4)(2.72,0.005)(2.79,0.0085)(3.7,0.0104)(4,0.011)(6,0.0112)(10,0.0098)(20,0.008)(40,0.0062)(70,0.0042)(100,0.0029)};
\addplot[pB,forget plot] coordinates {(0.05,1.1e-5)(0.055,0.97e-5)(0.07,0.92e-5)(0.1,0.9e-5)(0.15,0.95e-5)(0.25,1.07e-5)(0.4,1.25e-5)(0.7,1.72e-5)(1.0,2.29e-5)(1.45,4.33e-5)(2.81,5.7e-5)(2.85,1.6e-4)(2.91,8e-4)(2.96,0.005)(3.03,0.0085)(3.7,0.01)(4,0.0105)(6,0.0107)(10,0.0092)(20,0.0074)(40,0.0057)(70,0.0039)(100,0.0026)};
\addplot[pB,forget plot] coordinates {(0.05,1.05e-5)(0.055,0.94e-5)(0.07,0.88e-5)(0.1,0.87e-5)(0.15,0.9e-5)(0.25,1.01e-5)(0.4,1.17e-5)(0.7,1.6e-5)(1.0,2.14e-5)(1.45,4.11e-5)(3.06,5.6e-5)(3.11,1.6e-4)(3.17,8e-4)(3.23,0.005)(3.3,0.0085)(3.7,0.0095)(4,0.0098)(6,0.01)(10,0.0085)(20,0.0068)(40,0.0052)(70,0.0036)(100,0.0024)};
\addplot[pB,forget plot] coordinates {(0.05,1e-6)(0.0505,1.0e-5)(0.055,0.9e-5)(0.07,0.85e-5)(0.1,0.83e-5)(0.15,0.86e-5)(0.25,0.95e-5)(0.4,1.1e-5)(0.7,1.5e-5)(1.0,2.0e-5)(1.45,3.9e-5)(3.33,5.6e-5)(3.38,1.6e-4)(3.45,8e-4)(3.51,0.005)(3.6,0.0085)(3.7,0.009)(4,0.0092)(6,0.0094)(10,0.0078)(20,0.0062)(40,0.0047)(70,0.0033)(100,0.0022)};
\end{axis}
\end{tikzpicture}
\end{document}
